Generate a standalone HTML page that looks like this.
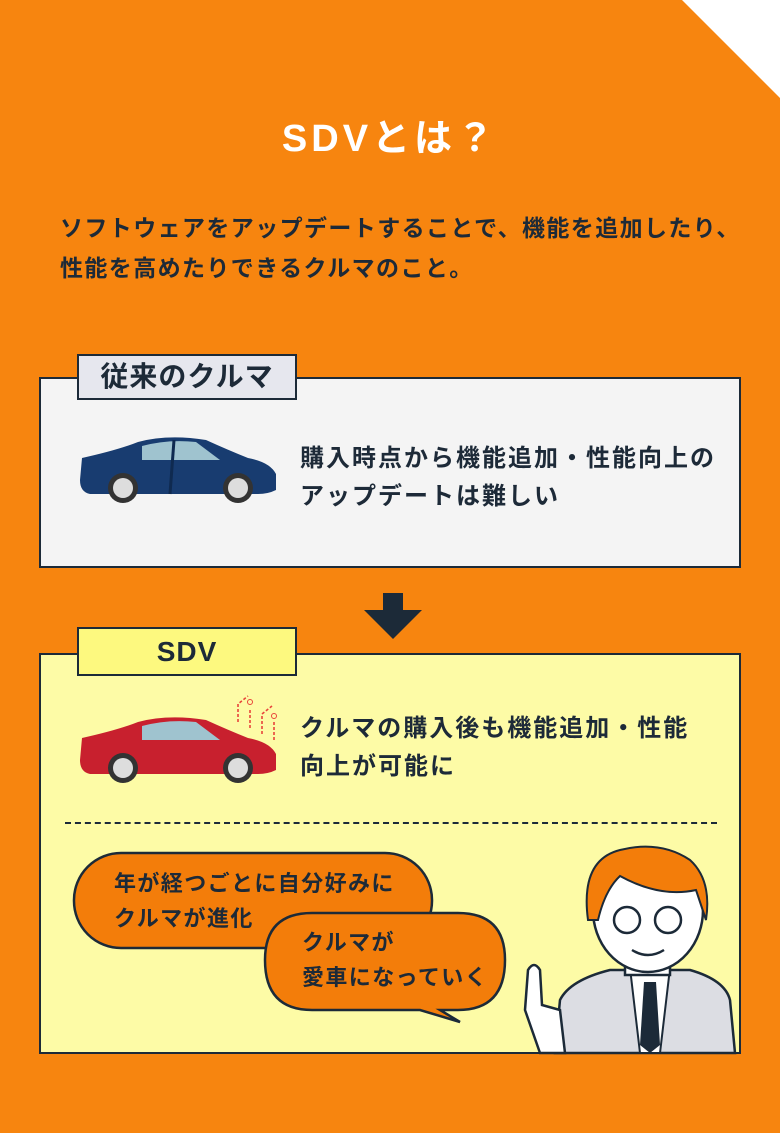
<!DOCTYPE html>
<html><head><meta charset="utf-8"><style>
body{margin:0;width:780px;height:1133px;background:#f7850f;position:relative;overflow:hidden;font-family:"Liberation Sans","Noto Sans CJK JP",sans-serif;color:#1d2a38}
.abs{position:absolute}
.box{position:absolute;border:2.5px solid #1c2a38;box-sizing:border-box}
.tab{position:absolute;border:2.5px solid #1c2a38;box-sizing:border-box;font-weight:bold;font-size:28px;letter-spacing:1px;text-align:center;line-height:42px}
.t{position:absolute;font-weight:bold;font-size:24px;letter-spacing:2px;line-height:38px;white-space:nowrap}
</style></head><body>
<svg class="abs" style="left:0;top:0" width="780" height="1133">
<polygon points="682,0 780,0 780,98" fill="#fff"/>
</svg>
<div class="abs" style="left:0;width:780px;top:107px;text-align:center;color:#fff;font-weight:bold;font-size:38px;letter-spacing:4px">SDVとは？</div>
<div class="t" style="left:60px;top:208px;color:#1d2a38;font-size:23px;letter-spacing:1.4px;line-height:40px">ソフトウェアをアップデートすることで、機能を追加したり、<br>性能を高めたりできるクルマのこと。</div>

<div class="box" style="left:39px;top:377px;width:702px;height:191px;background:#f4f4f4"></div>
<div class="tab" style="left:77px;top:354px;width:220px;height:46px;background:#e6e7ee">従来のクルマ</div>
<svg class="abs" style="left:78px;top:436px" width="200" height="72">
<path d="M4,22 Q40,14 60,6 Q90,-2 128,4 Q150,14 170,22 Q192,26 198,38 L198,54 Q190,58 180,58 L12,58 Q2,56 2,44 Z" fill="#183c70"/>
<path d="M64,10 Q90,3 118,6 L142,24 L64,24 Z" fill="#9fc3cf"/>
<line x1="96" y1="4" x2="92" y2="58" stroke="#0f2a50" stroke-width="3"/>
<circle cx="45" cy="52" r="15" fill="#333"/><circle cx="45" cy="52" r="10" fill="#ddd"/>
<circle cx="160" cy="52" r="15" fill="#333"/><circle cx="160" cy="52" r="10" fill="#ddd"/>
</svg>
<div class="t" style="left:300px;top:440px">購入時点から機能追加・性能向上の<br>アップデートは難しい</div>

<svg class="abs" style="left:362px;top:593px" width="62" height="46"><polygon points="21,0 41,0 41,17 60,17 31,46 2,17 21,17" fill="#1c2a38"/></svg>

<div class="box" style="left:39px;top:653px;width:702px;height:401px;background:#fdfba6"></div>
<div class="tab" style="left:77px;top:627px;width:220px;height:49px;background:#fdf97f;line-height:46px">SDV</div>
<svg class="abs" style="left:78px;top:694px" width="200" height="92">
<g stroke="#e8443a" stroke-width="1.6" fill="none" stroke-dasharray="3,2">
<path d="M160,28 L160,10 L170,2"/><path d="M172,34 L172,14"/><path d="M184,40 L184,20 L194,12"/><path d="M196,46 L196,28"/>
</g>
<circle cx="172" cy="8" r="2.5" fill="none" stroke="#e8443a"/><circle cx="196" cy="22" r="2.5" fill="none" stroke="#e8443a"/>
<path d="M4,44 Q40,36 60,28 Q90,20 128,26 Q150,36 170,44 Q192,48 198,60 L198,76 Q190,80 180,80 L12,80 Q2,78 2,66 Z" fill="#c8202e"/>
<path d="M64,32 Q90,25 118,28 L142,46 L64,46 Z" fill="#9fc3cf"/>
<circle cx="45" cy="74" r="15" fill="#333"/><circle cx="45" cy="74" r="10" fill="#ddd"/>
<circle cx="160" cy="74" r="15" fill="#333"/><circle cx="160" cy="74" r="10" fill="#ddd"/>
</svg>
<div class="t" style="left:300px;top:710px">クルマの購入後も機能追加・性能<br>向上が可能に</div>
<div class="abs" style="left:65px;top:822px;width:652px;border-top:2px dashed #1c2a38"></div>

<svg class="abs" style="left:0;top:840px" width="780" height="215">
<rect x="74" y="13" width="358" height="95" rx="47" fill="#f37d0a" stroke="#1c2a38" stroke-width="2.5"/>
<path d="M312,73 L458,73 Q505,73 505,120 Q505,170 458,170 L440,170 L460,182 L420,170 L312,170 Q265,170 265,120 Q265,73 312,73 Z" fill="#f37d0a" stroke="#1c2a38" stroke-width="2.5"/>
<path d="M555,213 L560,160 Q570,140 610,130 L690,130 Q725,140 730,160 L735,213 Z" fill="#dcdde3" stroke="#1c2a38" stroke-width="2.5"/>
<path d="M630,128 L670,128 L660,213 L640,213 Z" fill="#fff" stroke="#1c2a38" stroke-width="2"/>
<path d="M644,142 L656,142 L660,205 L650,213 L640,205 Z" fill="#1c2a38"/>
<rect x="625" y="95" width="45" height="40" fill="#fff" stroke="#1c2a38" stroke-width="2.5"/>
<ellipse cx="648" cy="70" rx="55" ry="62" fill="#fff" stroke="#1c2a38" stroke-width="2.5"/>
<path d="M588,80 Q580,20 620,10 Q660,0 690,20 Q712,40 706,80 L696,50 Q660,58 620,36 Q605,50 598,80 Z" fill="#f37d0a" stroke="#1c2a38" stroke-width="2"/>
<circle cx="627" cy="80" r="13" fill="none" stroke="#1c2a38" stroke-width="2.5"/>
<circle cx="668" cy="80" r="13" fill="none" stroke="#1c2a38" stroke-width="2.5"/>
<path d="M632,110 Q648,120 664,110" fill="none" stroke="#1c2a38" stroke-width="2.5"/>
<path d="M540,213 L525,170 L528,130 Q534,120 540,130 L542,165 L560,170 L565,213 Z" fill="#fff" stroke="#1c2a38" stroke-width="2.5"/>
</svg>
<div class="t" style="left:114px;top:866px;line-height:35px;font-size:22px;letter-spacing:1.4px">年が経つごとに自分好みに<br>クルマが進化</div>
<div class="t" style="left:302px;top:925px;line-height:35px;font-size:22px;letter-spacing:1.4px">クルマが<br>愛車になっていく</div>
</body></html>
